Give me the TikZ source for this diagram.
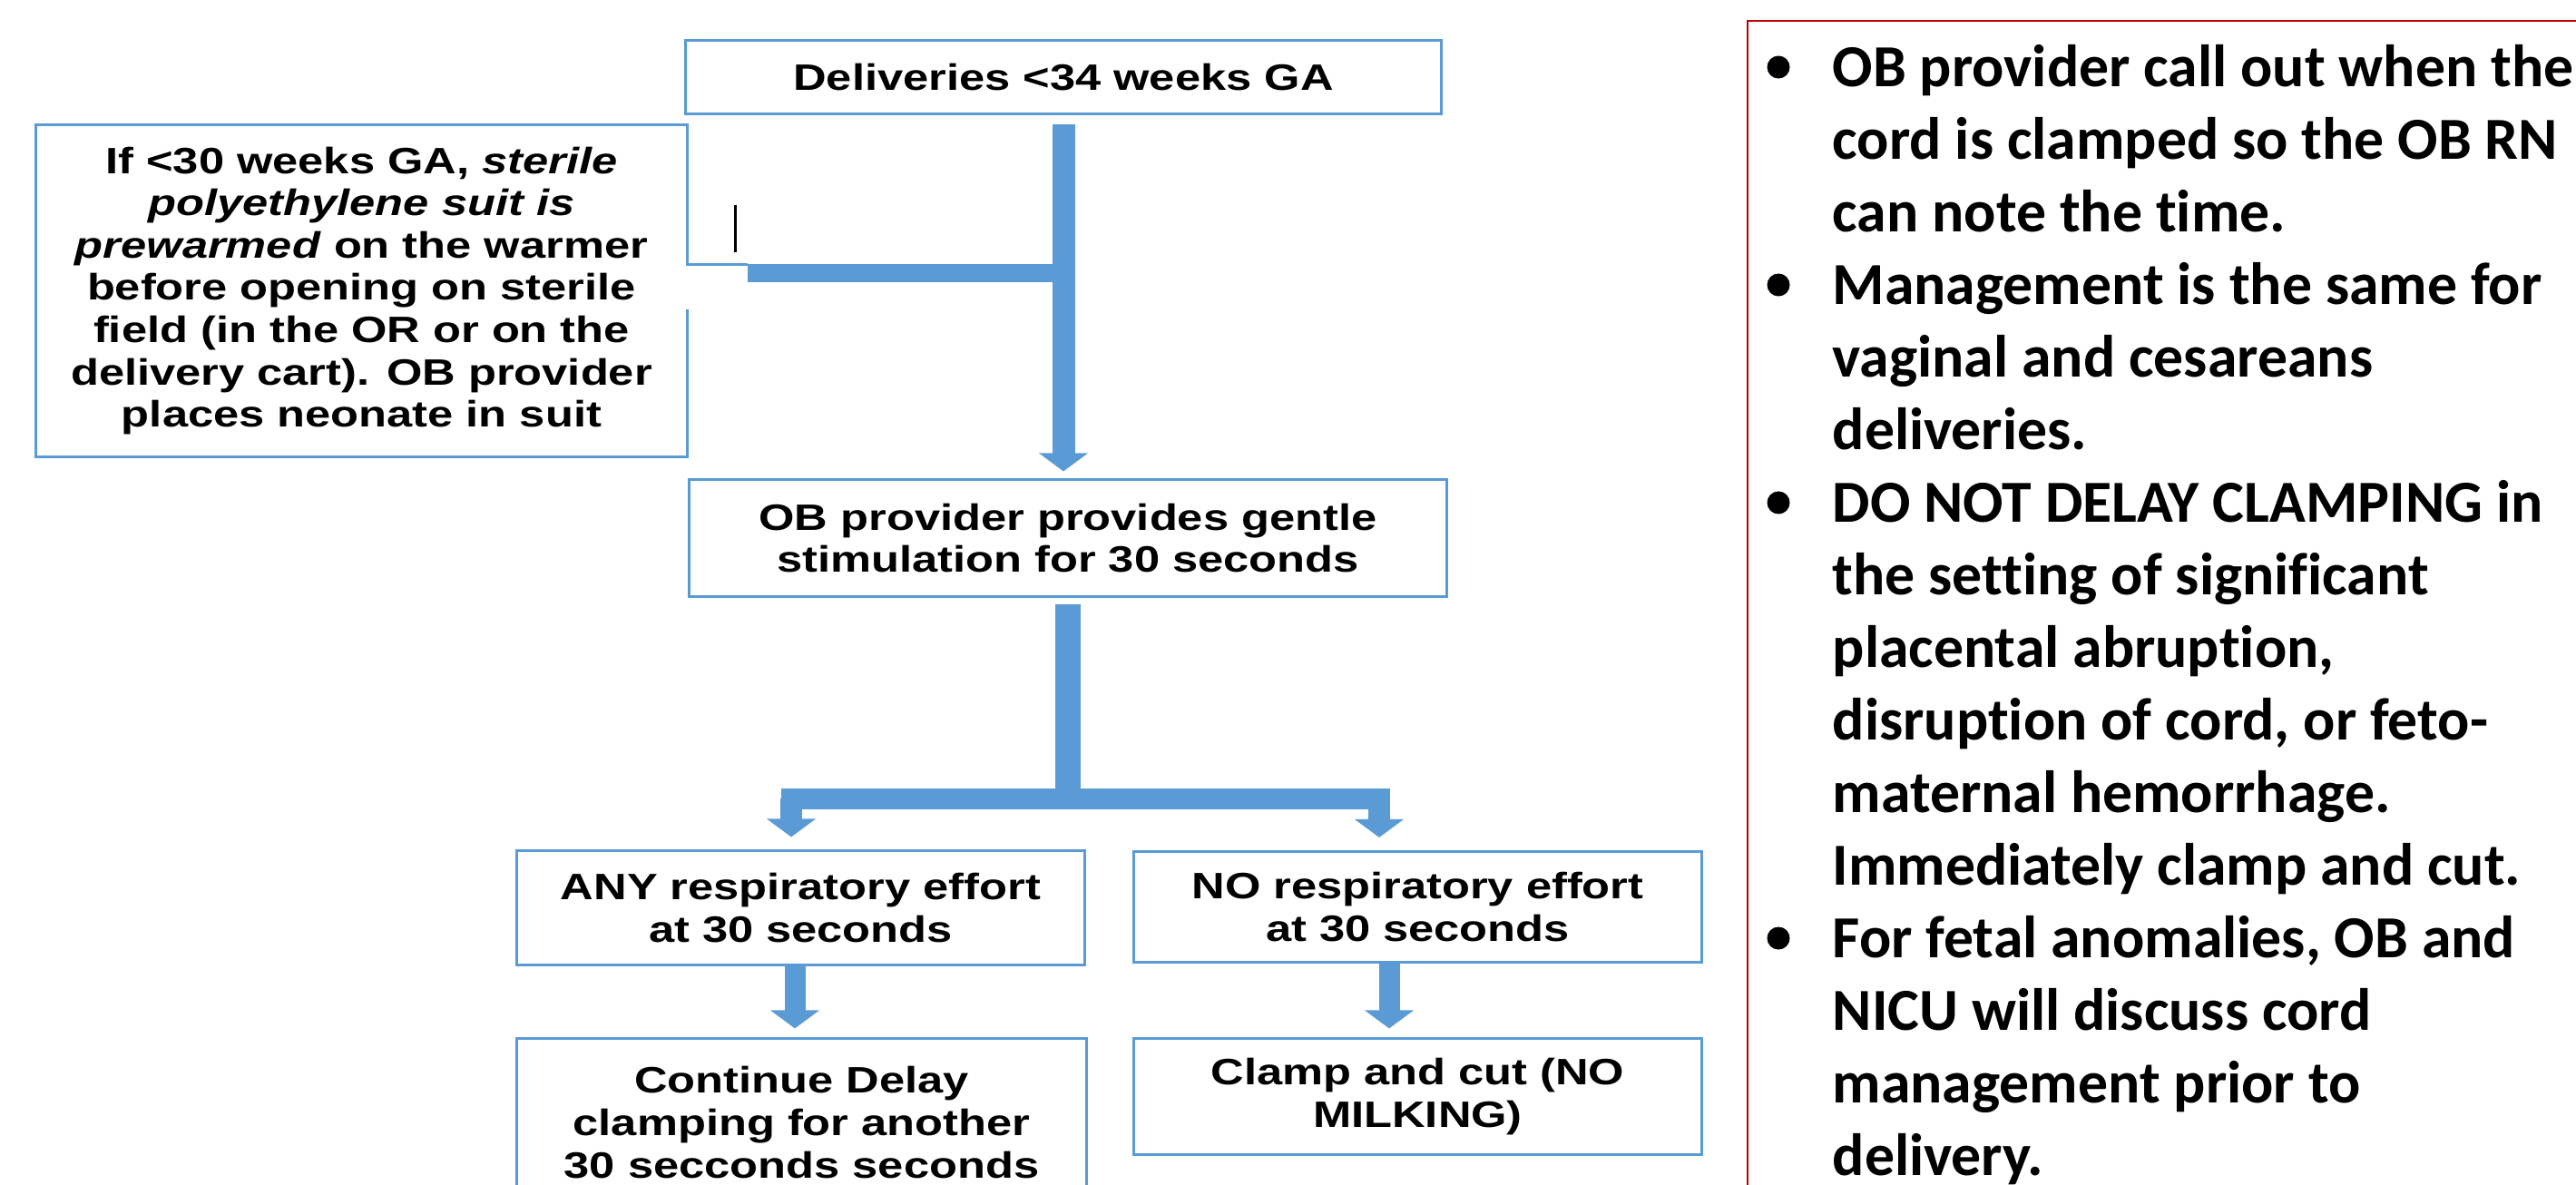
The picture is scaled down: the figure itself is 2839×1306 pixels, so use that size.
\documentclass[tikz,border=0pt]{standalone}
\usepackage{fontspec}
\usepackage{tikz}
\usetikzlibrary{arrows.meta}
\newfontfamily\flowfont{Liberation Sans}[FakeStretch=1.25]
\newfontfamily\notefont{Carlito}[Ligatures=NoCommon]
\definecolor{flowblue}{HTML}{5B9BD5}
\definecolor{notered}{HTML}{C00000}

\begin{document}
\begin{tikzpicture}[x=0.01cm,y=-0.01cm,
  box/.style={draw=flowblue,line width=0.03cm,fill=white,inner sep=0pt,align=center,
    font=\flowfont\bfseries\fontsize{11.52}{13.26}\selectfont},
  pipe/.style={draw=flowblue,line width=0.25cm},
  arr/.style={pipe,-{Triangle[width=0.53cm,length=0.2cm]}},
  note/.style={anchor=base west,inner sep=0pt,
    font=\notefont\bfseries\fontsize{18.69}{22.76}\selectfont}]
\useasboundingbox (0,0) rectangle (2839,1306);
\clip (0,0) rectangle (2839,1306);
\node[box,minimum width=8.32cm,minimum height=0.8cm] (top) at (1172,85) {Deliveries <34 weeks GA};
\node[box,minimum width=7.17cm,minimum height=3.65cm] (suit) at (398.5,320.5)
  {If <30 weeks GA, \textit{sterile}\\ \textit{polyethylene suit is}\\
   \textit{prewarmed} on the warmer\\ before opening on sterile\\
   field (in the OR or on the\\ delivery cart). OB provider\\ places neonate in suit};
\node[box,minimum width=8.34cm,minimum height=1.28cm] (mid) at (1177,593)
  {OB provider provides gentle\\ stimulation for 30 seconds};
\node[box,minimum width=6.25cm,minimum height=1.25cm] (anyresp) at (882.5,1000.5)
  {ANY respiratory effort\\ at 30 seconds};
\node[box,minimum width=6.25cm,minimum height=1.22cm] (noresp) at (1562.5,999.5)
  {NO respiratory effort\\ at 30 seconds};
\node[box,minimum width=6.27cm,minimum height=1.84cm] (contdelay) at (883.5,1237)
  {Continue Delay\\ clamping for another\\ 30 secconds seconds};
\node[box,minimum width=6.25cm,minimum height=1.27cm] (clampcut) at (1562.5,1208.5)
  {Clamp and cut (NO\\ MILKING)};
\coordinate (gaptop) at (757,291);
\coordinate (gapbot) at (757,341);
\coordinate (suitjoin) at (824,301);
\draw[white,line width=0.06cm] (gaptop) ++(0,2) -- (gapbot);
\draw[flowblue,line width=0.03cm] (gaptop) -- (gaptop -| suitjoin);
\draw[pipe,line width=0.2cm] (suitjoin) -- (suitjoin -| top.south);
\draw[arr,shorten <=0.1cm,shorten >=0.08cm] (top.south) -- (top.south |- mid.north);
\draw[black,line width=0.03cm] (810,226) -- (810,278);
\coordinate (split) at (mid.south |- 0,880);
\coordinate (lefttap) at (872,880);
\coordinate (righttap) at (1520,880);
\draw[pipe,line width=0.28cm,shorten <=0.07cm] (mid.south) -- (split);
\draw[pipe,line width=0.23cm,line cap=rect] (lefttap) -- (righttap);
\draw[arr,line width=0.24cm,shorten >=0.14cm] (lefttap) -- (lefttap |- anyresp.north);
\draw[arr,line width=0.24cm,shorten >=0.14cm] (righttap) -- (righttap |- noresp.north);
\draw[arr,line width=0.23cm,shorten >=0.1cm] (anyresp.south -| 876,0) -- (contdelay.north -| 876,0);
\draw[arr,line width=0.23cm,shorten >=0.1cm] (noresp.south -| 1531,0) -- (clampcut.north -| 1531,0);
\draw[notered,line width=0.02cm] (1926,23) rectangle (2900,1400);
\foreach \ln [count=\i from 0] in {{OB provider call out when the},{cord is clamped so the OB RN},
  {can note the time.},{Management is the same for},{vaginal and cesareans},{deliveries.},
  {DO NOT DELAY CLAMPING in},{the setting of significant},{placental abruption,},
  {disruption of cord, or feto-},{maternal hemorrhage.},{Immediately clamp and cut.},
  {For fetal anomalies, OB and},{NICU will discuss cord},{management prior to},{delivery.}}
  \node[note] (note\i) at (2019,{95+80*\i}) {\ln};
\foreach \k in {0,3,6,12}
  \fill (1960,{74+80*\k}) circle (0.125cm);
\end{tikzpicture}
\end{document}
